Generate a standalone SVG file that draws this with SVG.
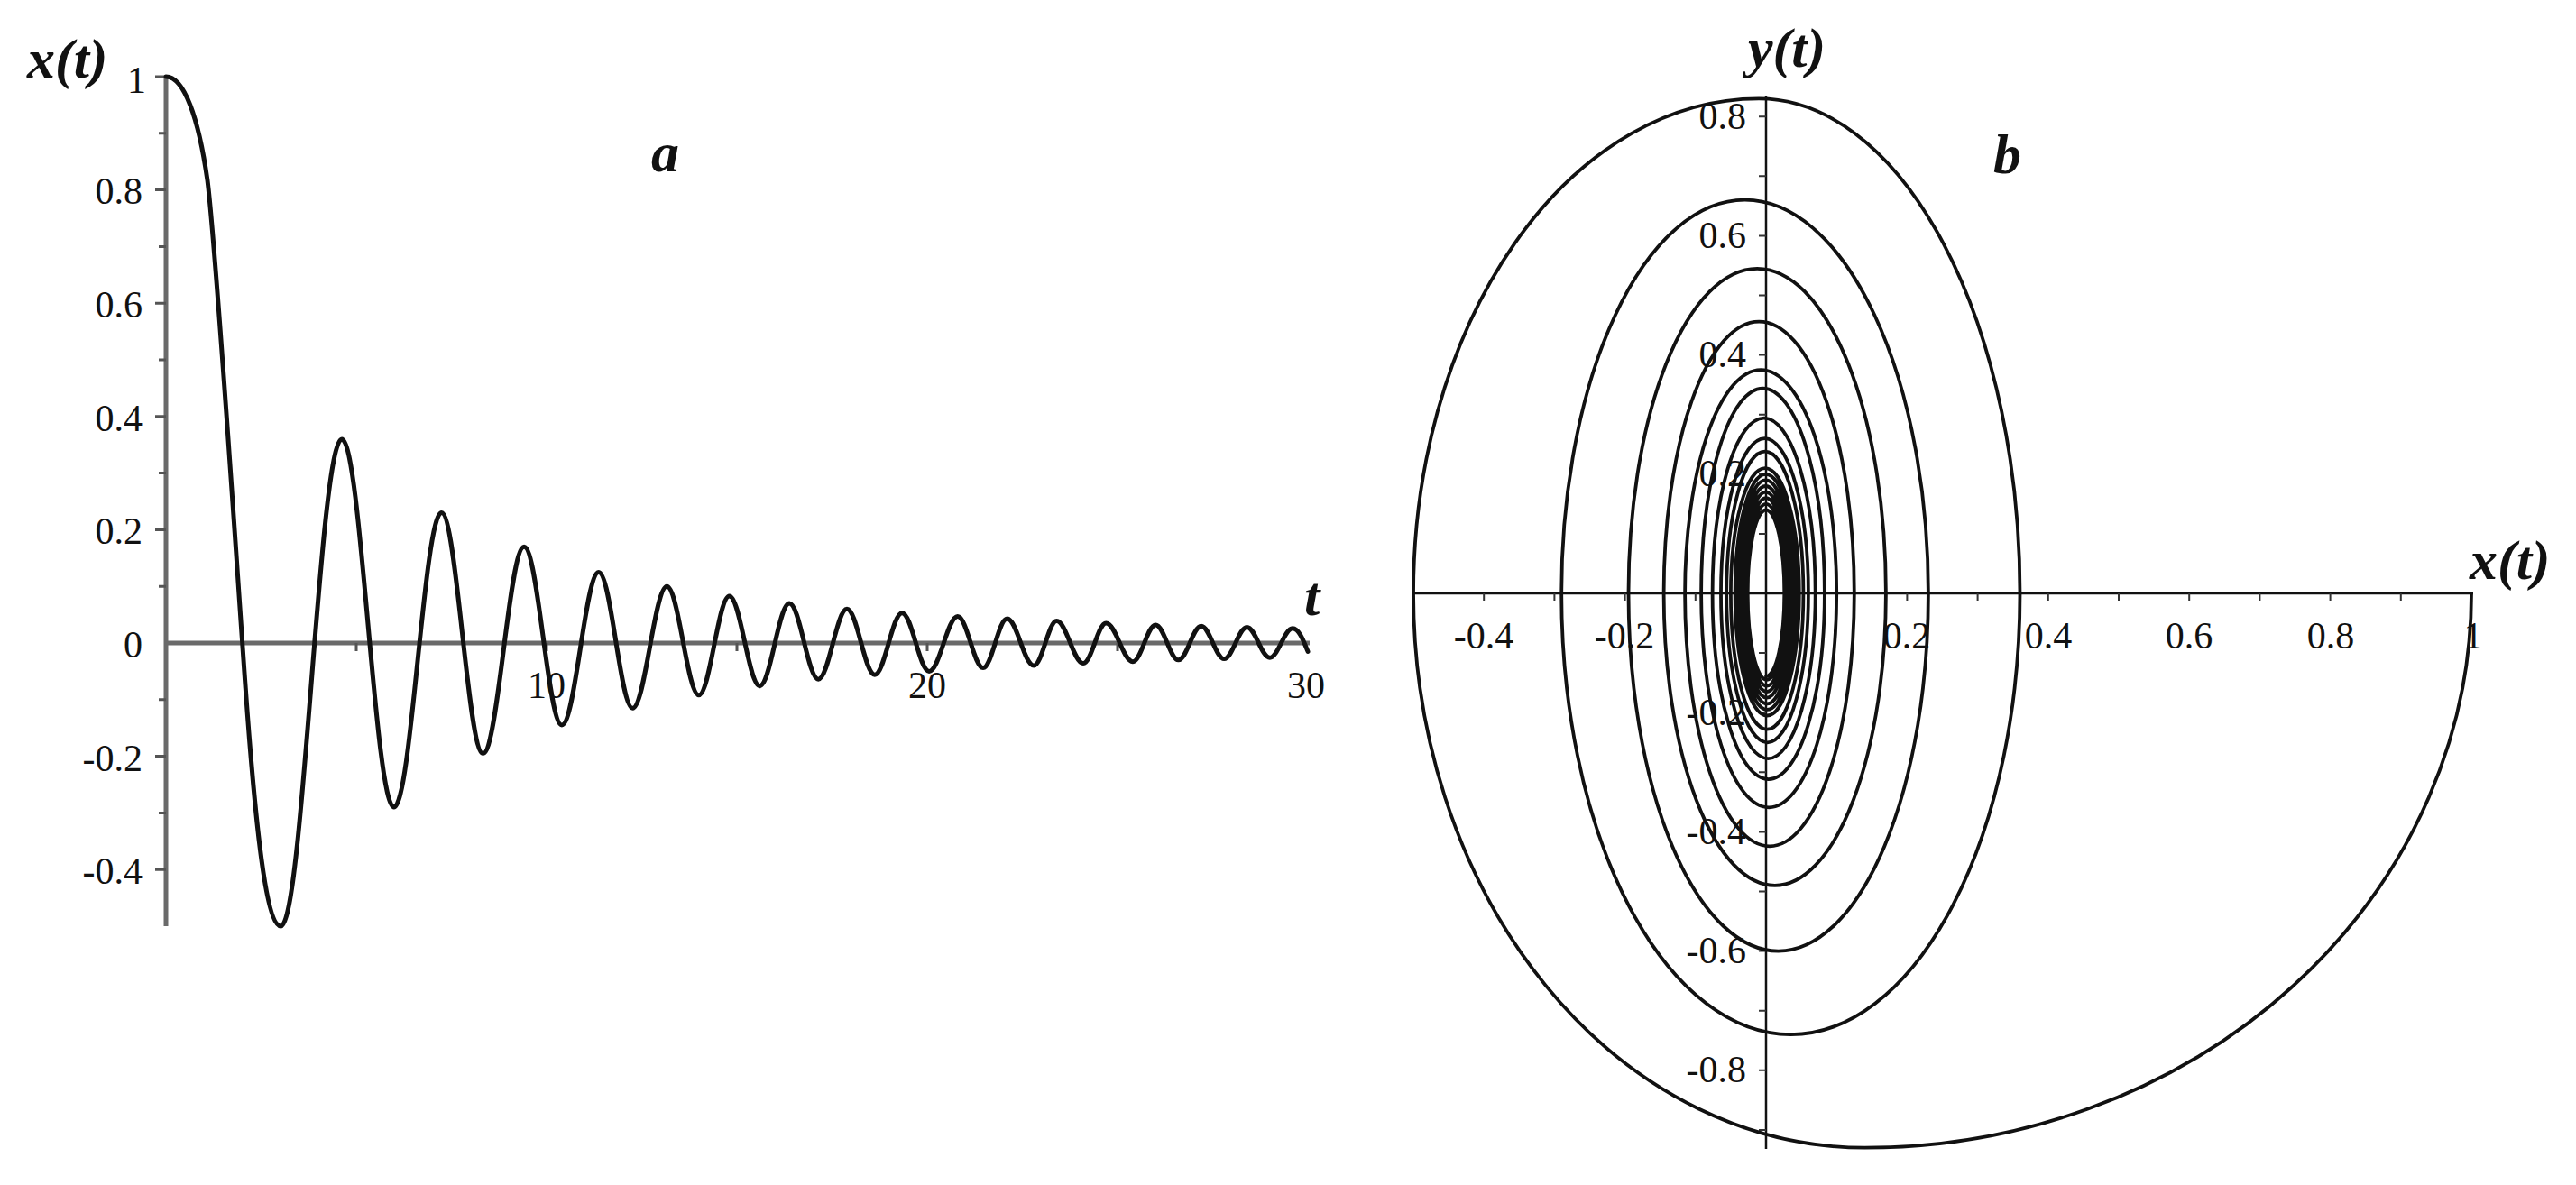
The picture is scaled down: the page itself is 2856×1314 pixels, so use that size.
<svg xmlns="http://www.w3.org/2000/svg" width="2856" height="1314" viewBox="0 0 2856 1314">
<style>
.lab{font-family:"Liberation Serif","Times New Roman",serif;font-size:42px;fill:#111}
.ttl{font-family:"Liberation Serif","Times New Roman",serif;font-size:62px;font-weight:bold;font-style:italic;fill:#111}
.axL{stroke:#6a6a6a;stroke-width:5;fill:none}
.tkL{stroke:#555;stroke-width:3}
.axR{stroke:#111;stroke-width:2.5;fill:none}
.tkR{stroke:#333;stroke-width:2}
.crv{stroke:#111;fill:none;stroke-linejoin:round;stroke-linecap:round}
</style>
<rect width="2856" height="1314" fill="#fff"/>
<g id="plot-a">
<line class="axL" x1="184" y1="85" x2="184" y2="1027"/>
<line class="axL" x1="184" y1="713" x2="1452" y2="713"/>
<path class="tkL" d="M172,85H184M176,147.8H184M172,210.6H184M176,273.4H184M172,336.2H184M176,399H184M172,461.8H184M176,524.6H184M172,587.4H184M176,650.2H184M176,775.8H184M172,838.6H184M176,901.4H184M172,964.2H184M395,713V722M606,713V722M817,713V722M1028,713V722M1239,713V722"/>
<g class="lab" text-anchor="end">
<text x="162" y="103">1</text><text x="158" y="226">0.8</text><text x="158" y="352">0.6</text><text x="158" y="478">0.4</text><text x="158" y="603">0.2</text><text x="158" y="729">0</text><text x="158" y="855">-0.2</text><text x="158" y="980">-0.4</text>
</g>
<g class="lab" text-anchor="middle">
<text x="606" y="774">10</text><text x="1028" y="774">20</text><text x="1448" y="774">30</text>
</g>
<text class="ttl" x="30" y="86">x(t)</text>
<text class="ttl" x="722" y="190">a</text>
<text class="ttl" x="1446" y="682">t</text>
<path class="crv" stroke-width="5" d="M184,85 C204,85 220,130 230,200 C240,280 262,620 272,760 C282,900 294,1027 311.4,1027 C336,1027 354.4,487 379,487 C400,487 415.8,895 436.8,895 C456,895 470.3,568.6 489.5,568.6 C506.2,568.6 518.8,835.5 535.5,835.5 C552.1,835.5 564.5,606.2 581.1,606.2 C596.3,606.2 607.7,804 622.9,804 C637.8,804 648.9,634.5 663.8,634.5 C677.5,634.5 687.7,785.2 701.4,785.2 C715.2,785.2 725.6,650.2 739.4,650.2 C752.3,650.2 761.9,770.8 774.8,770.8 C787.1,770.8 796.3,660.9 808.6,660.9 C820.8,660.9 830.1,760.7 842.3,760.7 C854.3,760.7 863.2,669 875.2,669 C886.9,669 895.6,753.2 907.3,753.2 C918.8,753.2 927.5,675.3 939,675.3 C950.2,675.3 958.6,748.2 969.8,748.2 C980.8,748.2 989.1,679.7 1000.1,679.7 C1011,679.7 1019.2,744.4 1030.1,744.4 C1041.6,744.4 1050.3,683.5 1061.8,683.5 C1072,683.5 1079.8,740.6 1090,740.6 C1099.7,740.6 1106.9,686 1116.6,686 C1127.4,686 1135.4,738.1 1146.2,738.1 C1155.4,738.1 1162.3,688.5 1171.5,688.5 C1182.2,688.5 1190.3,735.6 1201,735.6 C1210.2,735.6 1217.1,691 1226.3,691 C1237.1,691 1245.1,733.7 1255.9,733.7 C1265.1,733.7 1272,692.9 1281.2,692.9 C1290.4,692.9 1297.3,731.8 1306.5,731.8 C1315.7,731.8 1322.6,694.2 1331.8,694.2 C1341,694.2 1348,730.6 1357.2,730.6 C1366.4,730.6 1373.3,695.4 1382.5,695.4 C1391.7,695.4 1398.6,729.3 1407.8,729.3 C1417,729.3 1423.9,696.7 1433.1,696.7 C1440,696.7 1445,710 1450,722.4"/>
</g>
<g id="plot-b">
<line class="axR" x1="1567" y1="658" x2="2742" y2="658"/>
<line class="axR" x1="1958" y1="106" x2="1958" y2="1274"/>
<path class="tkR" d="M1645.2,658V666M1723.4,658V666M1801.6,658V666M1879.8,658V666M2036.2,658V666M2114.4,658V666M2192.6,658V666M2270.8,658V666M2349,658V666M2427.2,658V666M2505.4,658V666M2583.6,658V666M2661.8,658V666M2740,658V666M1950,129.2H1958M1950,195.3H1958M1950,261.4H1958M1950,327.5H1958M1950,393.6H1958M1950,459.7H1958M1950,525.8H1958M1950,591.9H1958M1950,724.1H1958M1950,790.2H1958M1950,856.3H1958M1950,922.4H1958M1950,988.5H1958M1950,1054.6H1958M1950,1120.7H1958M1950,1186.8H1958M1950,1252.9H1958"/>
<g class="lab" text-anchor="end">
<text x="1936" y="143">0.8</text><text x="1936" y="275">0.6</text><text x="1936" y="407">0.4</text><text x="1936" y="539">0.2</text><text x="1936" y="804">-0.2</text><text x="1936" y="936">-0.4</text><text x="1936" y="1068">-0.6</text><text x="1936" y="1200">-0.8</text>
</g>
<g class="lab" text-anchor="middle">
<text x="1645" y="719">-0.4</text><text x="1801" y="719">-0.2</text><text x="2114" y="719">0.2</text><text x="2271" y="719">0.4</text><text x="2427" y="719">0.6</text><text x="2584" y="719">0.8</text><text x="2742" y="719">1</text>
</g>
<text class="ttl" x="1938" y="74">y(t)</text>
<text class="ttl" x="2210" y="192">b</text>
<text class="ttl" x="2738" y="642">x(t)</text>
<path class="crv" stroke-width="3.8" d="M2740,658 A672.5,614.7 0 0 1 2067.5,1272.7 A500.5,614.7 0 0 1 1567,658 A383,548.6 0 0 1 1950,109.4 A289.5,548.6 0 0 1 2239.5,658 A254.1,489.1 0 0 1 1985.4,1147.1 A254.2,489.1 0 0 1 1731.2,658 A203.4,436.3 0 0 1 1934.6,221.7 A203.3,436.3 0 0 1 2137.9,658 A166.2,396.6 0 0 1 1971.7,1054.6 A166.2,396.6 0 0 1 1805.5,658 A142.7,360.2 0 0 1 1948.2,297.8 A142.7,360.2 0 0 1 2090.9,658 A123.1,323.9 0 0 1 1967.8,981.9 A123.2,323.9 0 0 1 1844.6,658 A105.6,301.4 0 0 1 1950.2,356.6 A105.6,301.4 0 0 1 2055.8,658 A93.8,280.3 0 0 1 1962,938.3 A93.9,280.3 0 0 1 1868.1,658 A84.1,247.9 0 0 1 1952.2,410.1 A84,247.9 0 0 1 2036.2,658 A75,237.3 0 0 1 1961.2,895.3 A75.1,237.3 0 0 1 1886.1,658 A68.4,227.4 0 0 1 1954.5,430.6 A68.4,227.4 0 0 1 2022.9,658 A62.1,206.2 0 0 1 1960.8,864.2 A62.2,206.2 0 0 1 1898.6,658 A57.1,194.3 0 0 1 1955.7,463.7 A57,194.3 0 0 1 2012.7,658 A52.3,183.1 0 0 1 1960.4,841.1 A52.4,183.1 0 0 1 1908,658 A48.5,171.9 0 0 1 1956.5,486.1 A48.4,171.9 0 0 1 2004.9,658 A45.3,165.3 0 0 1 1959.6,823.3 A45.4,165.3 0 0 1 1914.2,658 A42.6,157.3 0 0 1 1956.8,500.7 A42.6,157.3 0 0 1 1999.4,658 A40.2,150.7 0 0 1 1959.2,808.7 A40.3,150.7 0 0 1 1918.9,658 A38,138.8 0 0 1 1956.9,519.2 A37.9,138.8 0 0 1 1994.8,658 A35.6,135.5 0 0 1 1959.2,793.5 A35.6,135.5 0 0 1 1923.6,658 A34,132.2 0 0 1 1957.6,525.8 A34,132.2 0 0 1 1991.6,658 A32.4,128.9 0 0 1 1959.2,786.9 A32.5,128.9 0 0 1 1926.7,658 A30.9,125.6 0 0 1 1957.6,532.4 A30.9,125.6 0 0 1 1988.5,658 A29.3,122.3 0 0 1 1959.2,780.3 A29.4,122.3 0 0 1 1929.8,658 A27.8,119 0 0 1 1957.6,539 A27.8,119 0 0 1 1985.4,658 A26.6,115.7 0 0 1 1958.8,773.7 A26.6,115.7 0 0 1 1932.2,658 A25.4,112.4 0 0 1 1957.6,545.6 A25.4,112.4 0 0 1 1983,658 A24.2,109.1 0 0 1 1958.8,767.1 A24.3,109.1 0 0 1 1934.5,658 A23.5,105.8 0 0 1 1958,552.2 A23.5,105.8 0 0 1 1981.5,658 A22.7,102.5 0 0 1 1958.8,760.5 A22.7,102.5 0 0 1 1936.1,658 A21.9,99.1 0 0 1 1958,558.9 A21.9,99.1 0 0 1 1979.9,658 A21.1,95.8 0 0 1 1958.8,753.8 A21.1,95.8 0 0 1 1937.7,658 A20.3,92.5 0 0 1 1958,565.5 A20.3,92.5 0 0 1 1978.3,658 A20.3,92 0 0 1 1958,750"/>
</g>
</svg>
